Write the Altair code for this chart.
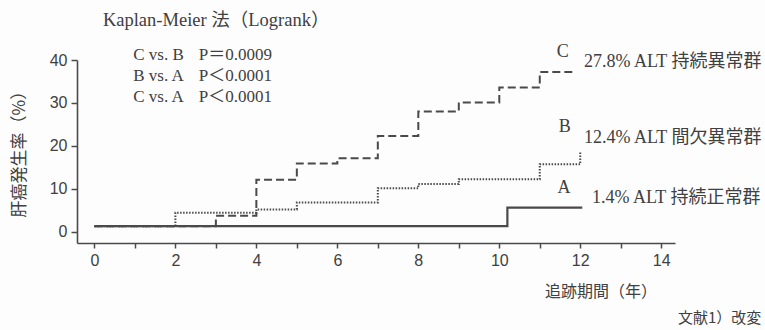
import altair as alt
import pandas as pd

# ---- data ----
a_t = [0, 10.2, 12.05]
a_v = [1.3, 5.6, 5.6]
b_t = [0, 2, 4, 5, 7, 8, 9, 11, 12]
b_v = [1.3, 4.4, 5.2, 6.8, 10.1, 11.1, 12.2, 15.7, 18.8]
c_t = [0, 3, 4, 5, 6, 7, 8, 9, 10, 11, 11.85]
c_v = [1.3, 3.7, 12.1, 15.9, 17.1, 22.3, 28.0, 30.1, 33.6, 37.2, 37.2]

x_ticks = list(range(0, 15))
y_ticks = [0, 10, 20, 30, 40]

# annotation texts and their anchor positions in data units
head_text = ["Kaplan-Meier 法（Logrank）"]
head_t = [0.21]
head_v = [49.3]

cmp_text = ["C vs. B", "B vs. A", "C vs. A"]
cmp_p = ["P＝0.0009", "P＜0.0001", "P＜0.0001"]
cmp_t = [0.96, 0.96, 0.96]
cmp_p_t = [2.58, 2.58, 2.58]
cmp_v = [41.2, 36.3, 31.4]

grp_letter = ["C", "B", "A"]
grp_letter_t = [11.57, 11.62, 11.6]
grp_letter_v = [41.9, 24.4, 10.2]
grp_desc = ["27.8% ALT 持続異常群", "12.4% ALT 間欠異常群", "1.4% ALT 持続正常群"]
grp_desc_t = [12.09, 12.09, 12.29]
grp_desc_v = [39.6, 21.8, 7.9]

xtitle_text = ["追跡期間（年）"]
xtitle_t = [12.51]
xtitle_v = [-14.1]
src_text = ["文献1）改変"]
src_t = [16.47]
src_v = [-20.2]
ytitle_text = ["肝癌発生率（%）"]
ytitle_t = [-1.84]
ytitle_v = [19.0]

INK = "#4a4a4a"
TXT = "#404040"
SERIF = "Liberation Serif, Noto Sans CJK JP"
SANS = "Noto Sans CJK JP"

xs = alt.Scale(domain=[-0.43, 14.34], nice=False, zero=False)
ys = alt.Scale(domain=[-2.63, 40], nice=False, zero=False)


def line_df(t, v):
    return pd.DataFrame({"t": t, "v": v})


def txt_df(t, v, s):
    return pd.DataFrame({"t": t, "v": v, "label": s})


X = alt.X("t:Q", scale=xs, title=None,
          axis=alt.Axis(values=x_ticks, grid=False, tickSize=5, labelPadding=4,
                        labelExpr="datum.value % 2 == 0 ? datum.label : ''"))
Y = alt.Y("v:Q", scale=ys, title=None,
          axis=alt.Axis(values=y_ticks, grid=False, tickSize=6, labelPadding=4))

line_c = alt.Chart(line_df(c_t, c_v)).mark_line(
    interpolate="step-after", color=INK, strokeWidth=2, strokeDash=[8, 4]
).encode(x=X, y=Y)
line_b = alt.Chart(line_df(b_t, b_v)).mark_line(
    interpolate="step-after", color=INK, strokeWidth=2, strokeDash=[1.5, 1.5]
).encode(x=alt.X("t:Q", scale=xs), y=alt.Y("v:Q", scale=ys))
line_a = alt.Chart(line_df(a_t, a_v)).mark_line(
    interpolate="step-after", color=INK, strokeWidth=2.2
).encode(x=alt.X("t:Q", scale=xs), y=alt.Y("v:Q", scale=ys))


def text_layer(df, align="left", font=SERIF, size=17, angle=0):
    kw = dict(align=align, baseline="middle", font=font, fontSize=size, color=TXT)
    if angle:
        kw["angle"] = angle
    return alt.Chart(df).mark_text(**kw).encode(
        x=alt.X("t:Q", scale=xs), y=alt.Y("v:Q", scale=ys), text="label:N")


layers = [
    line_c, line_b, line_a,
    text_layer(txt_df(head_t, head_v, head_text), size=18.5),
    text_layer(txt_df(cmp_t, cmp_v, cmp_text), size=17),
    text_layer(txt_df(cmp_p_t, cmp_v, cmp_p), size=17),
    text_layer(txt_df(grp_letter_t, grp_letter_v, grp_letter), align="center", size=18),
    text_layer(txt_df(grp_desc_t, grp_desc_v, grp_desc), size=18),
    text_layer(txt_df(xtitle_t, xtitle_v, xtitle_text), align="center", font=SANS, size=16),
    text_layer(txt_df(src_t, src_v, src_text), align="right", font=SANS, size=15),
    text_layer(txt_df(ytitle_t, ytitle_v, ytitle_text), align="center", font=SANS, size=17, angle=270),
]

chart = alt.layer(*layers).properties(
    width=598, height=183,
    autosize=alt.AutoSizeParams(type="none"),
    padding={"left": 77, "top": 60, "right": 90, "bottom": 87},
    background="#fdfdfd",
).configure_view(stroke=None).configure_axis(
    domainColor=INK, domainWidth=1.6, tickColor=INK, tickWidth=1.5,
    labelColor=TXT, labelFont="Liberation Sans", labelFontSize=16,
)

chart.save("out.html", embed_options={"renderer": "svg", "actions": False})
